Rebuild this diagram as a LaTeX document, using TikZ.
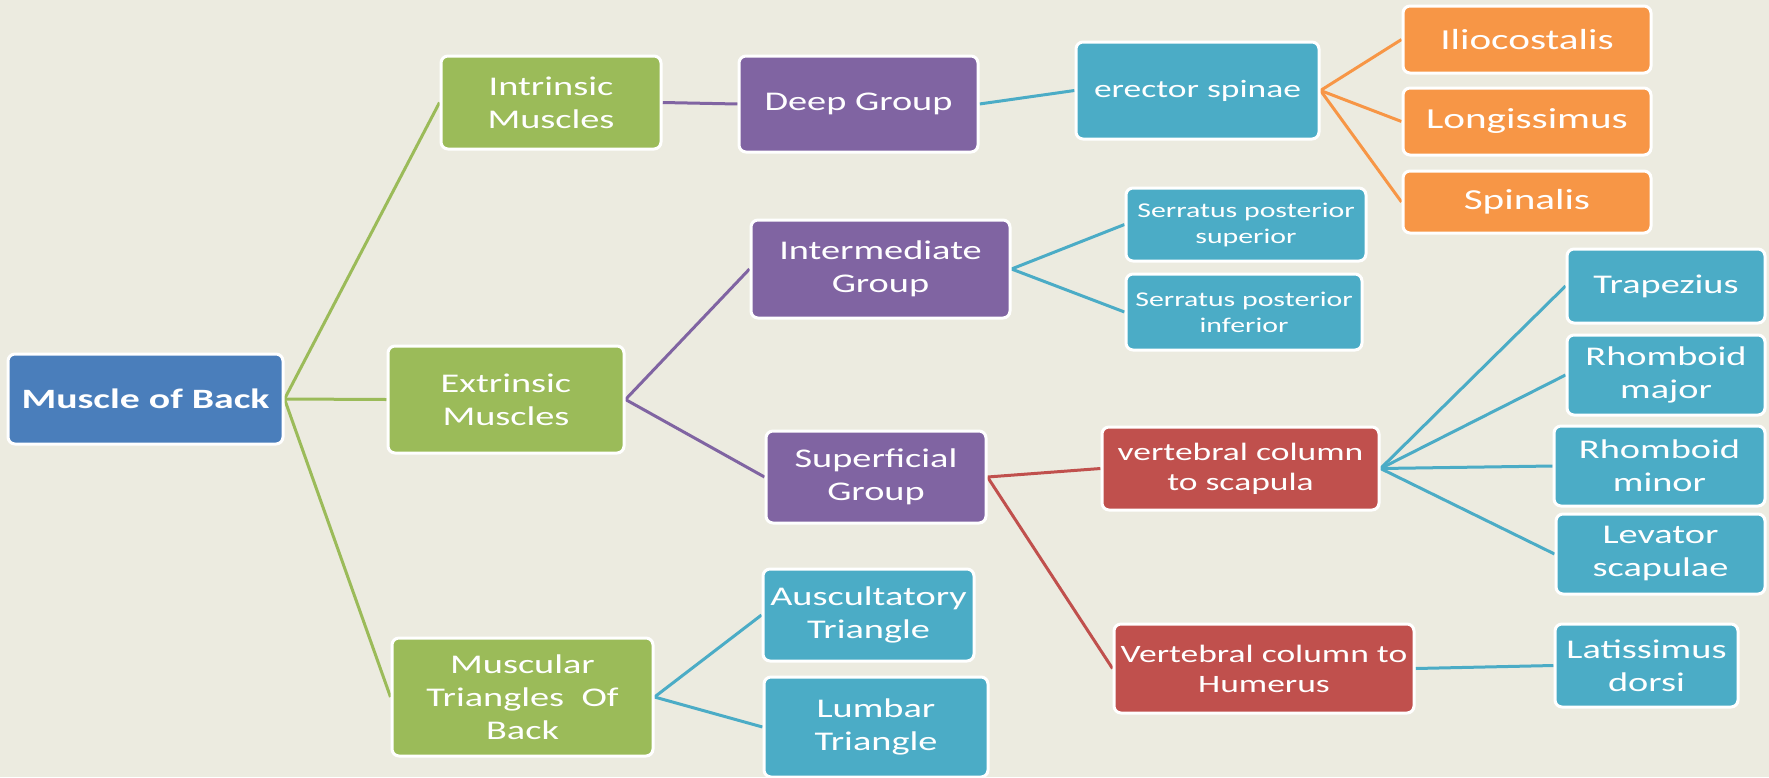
\documentclass[tikz,border=0pt]{standalone}
\usepackage{fontspec}
\setmainfont{Carlito}[FakeStretch=1.42]
\definecolor{bgc}{HTML}{ECEBE0}
\definecolor{cgreen}{HTML}{9BBB59}
\definecolor{cpurple}{HTML}{8064A2}
\definecolor{cnavy}{HTML}{4A7EBB}
\definecolor{cteal}{HTML}{4BACC6}
\definecolor{corange}{HTML}{F79646}
\definecolor{cred}{HTML}{C0504D}
\pgfdeclarelayer{bg}
\pgfdeclarelayer{edges}
\pgfsetlayers{bg,edges,main}
\tikzset{
  box/.style={draw=white, line width=3pt, rounded corners=7pt, text=white, align=center, inner sep=0pt, font=\fontsize{27}{33}\selectfont},
  sz/.style 2 args={minimum width=#1pt, minimum height=#2pt},
  gbox/.style={box, fill=cgreen},
  pbox/.style={box, fill=cpurple},
  tbox/.style={box, fill=cteal},
  obox/.style={box, fill=corange, font=\fontsize{29}{35}\selectfont},
  rbox/.style={box, fill=cred, font=\fontsize{25}{30}\selectfont},
  link/.style={line width=3pt},
}
\begin{document}
\begin{tikzpicture}[x=1pt,y=-1pt]
\begin{pgfonlayer}{bg}
\fill[bgc] (0,0) rectangle (1769,777);
\end{pgfonlayer}
\useasboundingbox (0,0) rectangle (1769,777);

\node[box, fill=cnavy, sz={275}{90}, font=\bfseries\fontsize{28}{34}\selectfont] (root) at (145.5,399) {Muscle of Back};

\node[gbox, sz={220}{93}] (intr) at (551,102.5) {Intrinsic\\Muscles};
\node[gbox, sz={236}{107}] (extr) at (506,399.5) {Extrinsic\\Muscles};
\node[gbox, sz={261}{118}] (musc) at (522.5,697) {Muscular\\Triangles\ \ Of\\Back};

\node[pbox, sz={239}{96}] (deep) at (858.5,104) {Deep Group};
\node[pbox, sz={259}{98}] (inter) at (880.5,269) {Intermediate\\Group};
\node[pbox, sz={220}{92}] (superf) at (876,477) {Superficial\\Group};

\node[tbox, sz={211}{92}] (ausc) at (868.5,615) {Auscultatory\\Triangle};
\node[tbox, sz={224}{100}] (lumb) at (876,727) {Lumbar\\Triangle};

\node[tbox, sz={243}{97}, font=\fontsize{25}{30}\selectfont] (erect) at (1197.5,90.5) {erector spinae};
\node[obox, sz={248}{67}] (ilio) at (1527,39.5) {Iliocostalis};
\node[obox, sz={248}{67}] (long) at (1527,121.5) {Longissimus};
\node[obox, sz={248}{62}] (spin) at (1527,202) {Spinalis};

\node[tbox, sz={240}{73}, font=\fontsize{21}{26}\selectfont] (ssup) at (1246,224.5) {Serratus posterior\\superior};
\node[tbox, sz={236}{76}, font=\fontsize{21}{26}\selectfont] (sinf) at (1244,312) {Serratus posterior\\inferior};

\node[rbox, sz={277}{83}] (vcs) at (1240.5,468.5) {vertebral column\\to scapula};
\node[rbox, sz={300}{89}] (vch) at (1264,668.5) {Vertebral column to\\Humerus};

\node[tbox, sz={198}{74}] (trap) at (1666,286) {Trapezius};
\node[tbox, sz={198}{80}] (rmaj) at (1666,375) {Rhomboid\\major};
\node[tbox, sz={211}{80}] (rmin) at (1659.5,466) {Rhomboid\\minor};
\node[tbox, sz={209}{80}] (lev) at (1660.5,554) {Levator\\scapulae};
\node[tbox, sz={183}{83}] (lat) at (1646.5,665.5) {Latissimus\\dorsi};

\begin{pgfonlayer}{edges}
\draw[link, cgreen] (root.east) -- (intr.west);
\draw[link, cgreen] (root.east) -- (extr.west);
\draw[link, cgreen] (root.east) -- (musc.west);
\draw[link, cpurple] (intr.east) -- (deep.west);
\draw[link, cpurple] (extr.east) -- (inter.west);
\draw[link, cpurple] (extr.east) -- (superf.west);
\draw[link, cteal] (musc.east) -- (ausc.west);
\draw[link, cteal] (musc.east) -- (lumb.west);
\draw[link, cteal] (deep.east) -- (erect.west);
\draw[link, corange] (erect.east) -- (ilio.west);
\draw[link, corange] (erect.east) -- (long.west);
\draw[link, corange] (erect.east) -- (spin.west);
\draw[link, cteal] (inter.east) -- (ssup.west);
\draw[link, cteal] (inter.east) -- (sinf.west);
\draw[link, cred] (superf.east) -- (vcs.west);
\draw[link, cred] (superf.east) -- (vch.west);
\draw[link, cteal] (vcs.east) -- (trap.west);
\draw[link, cteal] (vcs.east) -- (rmaj.west);
\draw[link, cteal] (vcs.east) -- (rmin.west);
\draw[link, cteal] (vcs.east) -- (lev.west);
\draw[link, cteal] (vch.east) -- (lat.west);
\end{pgfonlayer}
\end{tikzpicture}
\end{document}
